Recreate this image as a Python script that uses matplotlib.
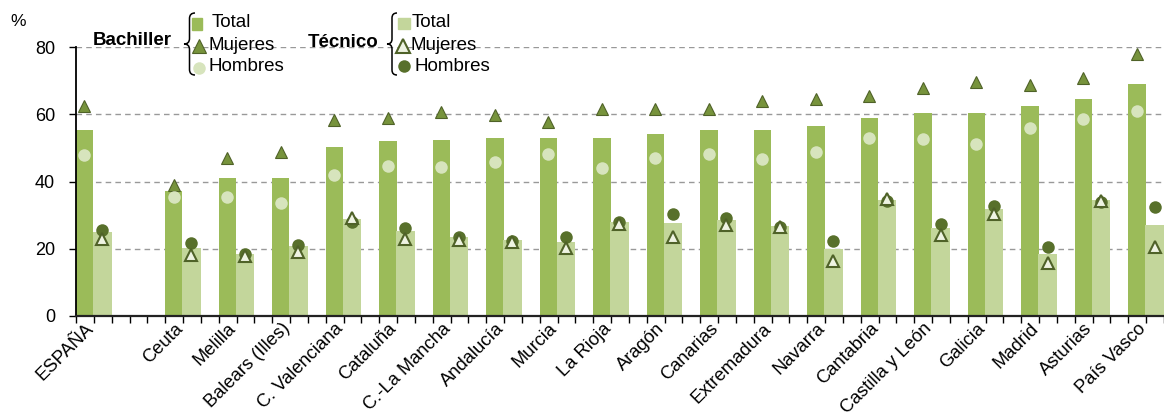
import matplotlib
matplotlib.use("Agg")
import matplotlib.pyplot as plt
from matplotlib.path import Path
from matplotlib.patches import PathPatch, Rectangle

plt.rcParams['font.family'] = ['Liberation Sans', 'DejaVu Sans']

regions = ['ESPAÑA', 'Ceuta', 'Melilla', 'Balears (Illes)', 'C. Valenciana', 'Cataluña',
           'C.-La Mancha', 'Andalucía', 'Murcia', 'La Rioja', 'Aragón', 'Canarias',
           'Extremadura', 'Navarra', 'Cantabria', 'Castilla y León', 'Galicia', 'Madrid',
           'Asturias', 'País Vasco']
bach_total = [55.3, 37.2, 41.0, 41.0, 50.3, 52.0, 52.3, 52.9, 52.9, 52.9, 54.1, 55.3,
              55.3, 56.5, 58.9, 60.4, 60.4, 62.5, 64.5, 69.0]
bach_muj = [62.6, 39.1, 47.0, 48.7, 58.4, 58.9, 60.8, 59.9, 57.6, 61.7, 61.6, 61.7,
            63.9, 64.4, 65.3, 67.7, 69.5, 68.6, 70.9, 77.9]
bach_hom = [48.0, 35.4, 35.4, 33.7, 41.9, 44.7, 44.3, 45.7, 48.2, 44.1, 47.0, 48.2,
            46.8, 48.7, 53.0, 52.6, 51.2, 56.0, 58.5, 61.1]
tec_total = [25.0, 20.2, 18.4, 20.8, 28.8, 25.3, 23.5, 22.6, 22.0, 28.0, 27.7, 28.5,
             26.8, 19.9, 34.5, 26.2, 31.8, 18.4, 34.5, 27.1]
tec_muj = [23.0, 18.2, 17.8, 19.0, 29.0, 22.9, 22.6, 22.1, 20.1, 27.4, 23.5, 27.2,
           26.4, 16.3, 34.8, 24.2, 30.4, 15.8, 34.3, 20.5]
tec_hom = [25.5, 21.6, 18.3, 21.2, 28.1, 26.2, 23.4, 22.4, 23.4, 28.1, 30.4, 29.0,
           26.6, 22.2, 34.1, 27.5, 32.8, 20.6, 34.0, 32.3]
yticks = [0, 20, 40, 60, 80]

C_BT = '#9BBB59'
C_TT = '#C3D69B'
C_MUJ = '#77933C'
C_EDGE = '#4F6228'
C_HOM = '#D7E4BD'
C_TMUJ = '#EEF3E2'
C_THOM = '#58702B'

W, H = 1164, 412
fig = plt.figure(figsize=(W / 100, H / 100), dpi=100)
ax = fig.add_axes([76 / W, 96 / H, (W - 76) / W, 269 / H])

slots = [0] + [5 + 3 * k for k in range(len(regions) - 1)]
xb = [s for s in slots]
xt = [s + 0.96 for s in slots]
mb = [s + 0.47 for s in slots]
mt = [s + 1.47 for s in slots]

ax.bar(xb, bach_total, width=0.97, align='edge', color=C_BT, zorder=2)
ax.bar(xt, tec_total, width=1.04, align='edge', color=C_TT, zorder=2)

ms = 9
ax.plot(mb, bach_muj, ls='none', marker='^', ms=ms, mfc=C_MUJ, mec=C_EDGE, mew=0.8,
        clip_on=False, zorder=4)
ax.plot(mb, bach_hom, ls='none', marker='o', ms=ms, mfc=C_HOM, mec=C_HOM, mew=0,
        clip_on=False, zorder=4)
ax.plot(mt, tec_hom, ls='none', marker='o', ms=ms, mfc=C_THOM, mec=C_THOM, mew=0,
        clip_on=False, zorder=4)
ax.plot(mt, tec_muj, ls='none', marker='^', ms=ms, mfc=C_TMUJ, mec=C_EDGE, mew=1.5,
        clip_on=False, zorder=5)

ax.set_xlim(0, (W - 76) / 18.017)
ax.set_ylim(0, 80)
ax.set_yticks(yticks)
ax.set_yticklabels([str(v) for v in yticks], fontsize=13)
ax.set_xticks(range(0, 62))
ax.set_xticklabels([])
ax.tick_params(axis='y', direction='out', length=5, width=1, pad=10, color='black')
ax.tick_params(axis='x', direction='out', length=5, width=1, color='black')
for sp in ['top', 'right']:
    ax.spines[sp].set_visible(False)
ax.spines['left'].set_linewidth(1.3)
ax.spines['bottom'].set_linewidth(1.6)
ax.spines['bottom'].set_color('#222222')
ax.set_axisbelow(True)
ax.yaxis.grid(True, color='#999999', lw=1, ls=(0, (4, 3)))
ax.xaxis.grid(False)

trans = ax.get_xaxis_transform()
for s, lab in zip(slots, regions):
    ax.text(s + 0.5, -4 / 269, lab, transform=trans, ha='right', va='top',
            rotation=45, rotation_mode='anchor', fontsize=13.2)

# legend overlay in pixel coordinates
lx = fig.add_axes([0, 0, 1, 1], facecolor='none')
lx.set_xlim(0, W)
lx.set_ylim(H, 0)
lx.axis('off')


def brace(x_tip, x_right, top, bottom):
    xm = (x_tip + x_right) / 2
    ym = (top + bottom) / 2
    r = (x_right - x_tip) / 2
    verts = [(x_right, top), (xm, top), (xm, top + r), (xm, ym - r), (xm, ym), (x_tip, ym),
             (xm, ym), (xm, ym + r), (xm, bottom - r), (xm, bottom), (x_right, bottom)]
    codes = [Path.MOVETO, Path.CURVE3, Path.CURVE3, Path.LINETO, Path.CURVE3, Path.CURVE3,
             Path.CURVE3, Path.CURVE3, Path.LINETO, Path.CURVE3, Path.CURVE3]
    lx.add_patch(PathPatch(Path(verts, codes), fill=False, lw=1.1, ec='black'))


lx.text(18, 21, '%', ha='center', va='center', fontsize=12.5)
fs = 13.5
lx.text(93, 40, 'Bachiller', ha='left', va='center', fontsize=fs, fontweight='bold')
brace(184, 195, 13, 75)
lx.add_patch(Rectangle((192, 18), 10, 12, color=C_BT))
lx.plot([199], [46], marker='^', ms=10, mfc=C_MUJ, mec=C_EDGE, mew=0.8)
lx.plot([199], [68], marker='o', ms=9, mfc=C_HOM, mec=C_HOM, mew=0)
lx.text(212, 22, 'Total', ha='left', va='center', fontsize=fs)
lx.text(209, 45, 'Mujeres', ha='left', va='center', fontsize=fs)
lx.text(209, 66, 'Hombres', ha='left', va='center', fontsize=fs)

lx.text(308, 42, 'Técnico', ha='left', va='center', fontsize=fs, fontweight='bold')
brace(387, 397, 13, 75)
lx.add_patch(Rectangle((398, 18), 12, 11, color=C_TT))
lx.plot([403], [46], marker='^', ms=10, mfc=C_TMUJ, mec=C_EDGE, mew=1.5)
lx.plot([404], [66], marker='o', ms=9, mfc=C_THOM, mec=C_THOM, mew=0)
lx.text(412, 22, 'Total', ha='left', va='center', fontsize=fs)
lx.text(411, 45, 'Mujeres', ha='left', va='center', fontsize=fs)
lx.text(415, 66, 'Hombres', ha='left', va='center', fontsize=fs)

fig.savefig('out.png', dpi=100)
